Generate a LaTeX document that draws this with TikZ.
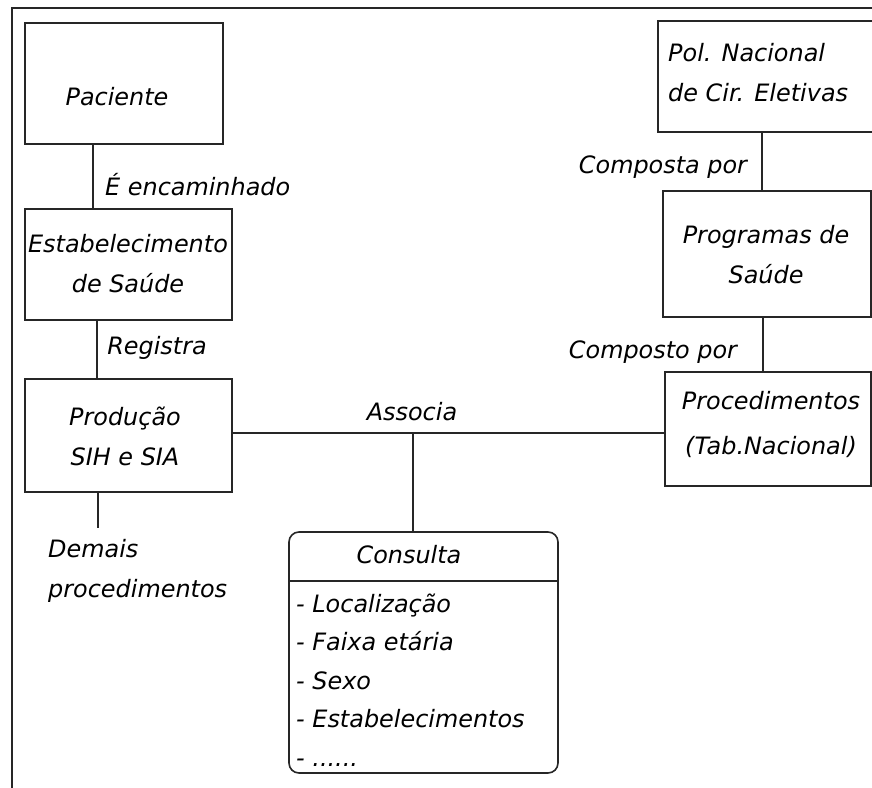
\documentclass[tikz,border=0pt]{standalone}
\usepackage{fontspec}
\setmainfont{DejaVu Sans}
\begin{document}
\begin{tikzpicture}[x=1bp,y=-1bp,
  lw/.style={line width=1.6bp, draw=black!85},
  box/.style={lw, rectangle, inner sep=0pt},
  txt/.style={inner sep=0pt, font=\fontsize{24}{40}\selectfont\itshape},
  conn/.style={lw}]
\useasboundingbox (0,0) rectangle (872,788);
% outer frame (partially visible)
\draw[lw] (12,788) -- (12,8) -- (880,8);
% boxes
\node[box, minimum width=198bp, minimum height=121bp] (pac) at (124,83.5) {};
\node[box, minimum width=207bp, minimum height=111bp] (est) at (128.5,264.5) {};
\node[box, minimum width=207bp, minimum height=113bp] (prod) at (128.5,435.5) {};
\node[box, minimum width=216bp, minimum height=111bp] (pol) at (766,76.5) {};
\node[box, minimum width=208bp, minimum height=126bp] (prog) at (767,254) {};
\node[box, minimum width=206bp, minimum height=114bp] (proc) at (768,429) {};
\node[box, rounded corners=10bp, minimum width=269bp, minimum height=241bp] (cons) at (423.5,652.5) {};
% helper coordinates
\coordinate (c1) at (93,0);
\coordinate (c2) at (97,0);
\coordinate (c3) at (98,0);
\coordinate (dem) at (98,528);
\coordinate (c4) at (762,0);
\coordinate (c5) at (763,0);
\coordinate (h) at (0,433);
\coordinate (j) at (413,433);
\coordinate (sep) at (0,581);
% connectors
\draw[conn] (pac.south -| c1) -- (est.north -| c1);
\draw[conn] (est.south -| c2) -- (prod.north -| c2);
\draw[conn] (prod.south -| c3) -- (dem);
\draw[conn] (pol.south -| c4) -- (prog.north -| c4);
\draw[conn] (prog.south -| c5) -- (proc.north -| c5);
\draw[conn] (prod.east |- h) -- (proc.west |- h);
\draw[conn] (j) -- (cons.north -| j);
\draw[conn] (cons.west |- sep) -- (cons.east |- sep);
% texts
\node[txt] (tpac) at (117,97) {Paciente};
\node[txt, anchor=west] (tenc) at (105,185) {É encaminhado};
\node[txt, align=center] (test) at (128,264) {Estabelecimento\\de Saúde};
\node[txt] (treg) at (157,348) {Registra};
\node[txt, align=center] (tprod) at (125,436) {Produção\\SIH e SIA};
\node[txt, align=left, anchor=west] (tdem) at (48,571) {Demais\\procedimentos};
\node[txt, align=left, anchor=west] (tpol) at (668,73) {Pol. Nacional\\de Cir. Eletivas};
\node[txt] (tcomp1) at (663,167) {Composta por};
\node[txt, align=center] (tprog) at (766,255) {Programas de\\Saúde};
\node[txt] (tcomp2) at (653,352) {Composto por};
\node[txt, align=center, font=\fontsize{24}{45}\selectfont\itshape] (tproc) at (771,424.5) {Procedimentos\\(Tab.Nacional)};
\node[txt] (tass) at (412,412) {Associa};
\node[txt] (tcons) at (409,555) {Consulta};
\node[txt, align=left, anchor=west, font=\fontsize{24}{38.5}\selectfont\itshape] (tlist) at (296,680) {- Localização\\- Faixa etária\\- Sexo\\- Estabelecimentos\\- ......};
\end{tikzpicture}
\end{document}
